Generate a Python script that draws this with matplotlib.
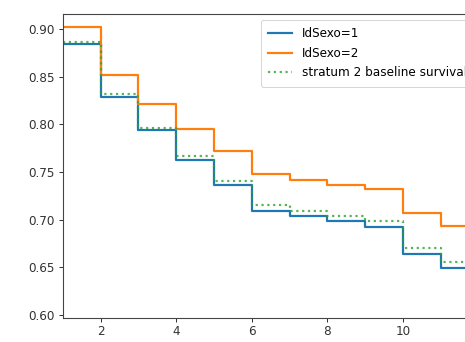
import matplotlib
matplotlib.use("Agg")
import matplotlib.pyplot as plt

timeline = [1, 2, 3, 4, 5, 6, 7, 8, 9, 10, 11, 12, 13]
sexo1 = [0.8843, 0.8292, 0.7937, 0.7627, 0.7367, 0.7095, 0.7034, 0.6982, 0.6919, 0.6644, 0.6497, 0.6497, 0.6497]
sexo2 = [0.9022, 0.8522, 0.8211, 0.7951, 0.7717, 0.7483, 0.7421, 0.7367, 0.7319, 0.7068, 0.6934, 0.6934, 0.6934]
baseline = [0.8870, 0.8316, 0.7965, 0.7669, 0.7405, 0.7150, 0.7092, 0.7034, 0.6982, 0.6705, 0.6554, 0.6554, 0.6554]
labels = ["IdSexo=1", "IdSexo=2", "stratum 2 baseline survival"]
yticks = [0.60, 0.65, 0.70, 0.75, 0.80, 0.85, 0.90]
xticks = [2, 4, 6, 8, 10, 12]

plt.rcParams["font.size"] = 12
plt.rcParams["axes.linewidth"] = 1.1
plt.rcParams["xtick.major.size"] = 4.2
plt.rcParams["ytick.major.size"] = 4.2
plt.rcParams["xtick.major.width"] = 1.0
plt.rcParams["ytick.major.width"] = 1.0
plt.rcParams["xtick.color"] = "#333333"
plt.rcParams["ytick.color"] = "#333333"
plt.rcParams["axes.edgecolor"] = "#444444"
plt.rcParams["legend.labelspacing"] = 0.55
plt.rcParams["legend.borderpad"] = 0.6

px_per_unit = 37.8
left_px, right_px = 62.7, 480.0
xmax = 1 + (right_px - left_px) / px_per_unit

fig = plt.figure(figsize=(465 / 72, 342 / 72), dpi=72)
ax = fig.add_axes([left_px / 465, (342 - 317.7) / 342, (right_px - left_px) / 465, (317.7 - 14) / 342])

ax.step(timeline, sexo1, where="post", color="tab:blue", lw=2.2, label=labels[0])
ax.step(timeline, sexo2, where="post", color="tab:orange", lw=2.2, label=labels[1])
ax.step(timeline, baseline, where="post", color="tab:green", lw=2.2, ls=":", alpha=0.8, label=labels[2])

ax.set_xlim(1, xmax)
ax.set_ylim(0.597, 0.916)
ax.set_yticks(yticks)
ax.set_yticklabels([f"{v:.2f}" for v in yticks])
ax.set_xticks(xticks)
ax.legend(loc="upper right")

fig.savefig("out.png", dpi=72)
